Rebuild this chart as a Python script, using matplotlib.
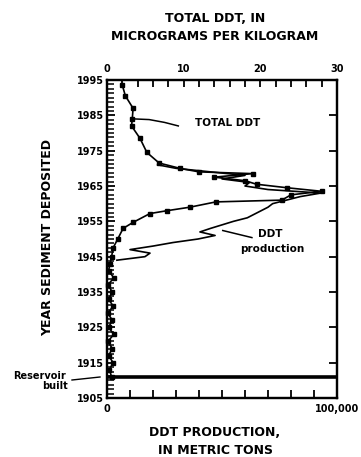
import matplotlib
matplotlib.use("Agg")
import matplotlib.pyplot as plt
import numpy as np

# Total DDT in sediment (micrograms per kilogram) by year
ddt_years = [1993.5, 1990.5, 1987, 1984, 1982, 1978.5, 1974.5, 1971.5, 1970, 1969,
             1968.5, 1967.5, 1966.5, 1965.5, 1964.5, 1963.5, 1962.5, 1961, 1960.5,
             1959, 1958, 1957.2, 1954.7, 1953, 1950, 1947.5, 1945, 1943, 1941, 1939,
             1937, 1935, 1933, 1931, 1929, 1927, 1925, 1923, 1921, 1919, 1917, 1915,
             1913, 1911]
ddt_values = [2.0, 2.4, 3.4, 3.3, 3.2, 4.3, 5.2, 6.8, 9.5, 12.0,
              19.0, 14.0, 18.0, 19.5, 23.5, 28.0, 24.0, 22.8, 14.2,
              10.8, 7.8, 5.6, 3.4, 2.1, 1.4, 0.8, 0.6, 0.4, 0.2, 0.9,
              0.1, 0.7, 0.2, 0.8, 0.1, 0.7, 0.2, 0.9, 0.1, 0.7, 0.2, 0.8,
              0.3, 0.6]

# DDT production (metric tons) by year
prod_years = list(range(1944, 1972))
prod_values = [4300, 16500, 18700, 10000, 20000, 28700, 39600, 47000, 40400, 45000,
               50000, 55000, 61000, 64000, 67000, 70000, 72000, 78000, 84000, 93000,
               70000, 60000, 62000, 50000, 60000, 45000, 30000, 22000]

year_labels = [1905, 1915, 1925, 1935, 1945, 1955, 1965, 1975, 1985, 1995]
reservoir_year = 1911

W, H = 361, 457
fig = plt.figure(figsize=(W / 100, H / 100), dpi=100)
L, R, T, B = 107, 337, 80, 398
ax = fig.add_axes([L / W, 1 - B / H, (R - L) / W, (B - T) / H])

FS = 7
BOLD = dict(fontweight="bold", family="DejaVu Sans")

# production on bottom axis
ax.plot(prod_values, prod_years, color="black", lw=1.2, zorder=3)
ax.set_xlim(0, 100000)
ax.set_ylim(1905, 1995)
ax.set_xticks(np.arange(0, 100001, 10000))
ax.set_xticklabels(["0"] + [""] * 9 + ["100,000"], fontsize=FS, **BOLD)
ax.set_yticks(year_labels)
ax.set_yticklabels([str(y) for y in year_labels], fontsize=FS, **BOLD)
ax.set_yticks(np.arange(1905, 1995.01, 1.25), minor=True)
ax.tick_params(axis="x", direction="in", length=6, width=1.3, pad=4, top=False)
ax.tick_params(axis="y", which="major", direction="in", length=6, width=1.3, pad=2,
               left=True, right=True)
ax.tick_params(axis="y", which="minor", direction="in", length=5, width=1.1,
               left=True, right=False)
for s in ax.spines.values():
    s.set_linewidth(1.6)

# reservoir line
ax.axhline(reservoir_year, color="black", lw=2.6, zorder=4)

# total DDT on top axis
ax2 = ax.twiny()
ax2.plot(ddt_values, ddt_years, color="black", lw=1.2, marker="s", ms=3.5,
         mfc="black", mec="black", zorder=5, clip_on=False)
ax2.set_xlim(0, 30)
ax2.set_ylim(1905, 1995)
ax2.set_xticks([0, 10, 20, 30])
ax2.set_xticklabels(["0", "10", "20", "30"], fontsize=FS, **BOLD)
ax2.set_xticks(np.arange(0, 30.1, 2), minor=True)
ax2.tick_params(axis="x", which="both", direction="in", length=5, width=1.3, pad=4)
for s in ax2.spines.values():
    s.set_linewidth(1.6)

# annotations
ax2.plot([3.4, 5.5, 7.5, 9.3], [1984, 1983.8, 1983, 1982], color="black", lw=1.1)
ax2.text(11.5, 1982.8, "TOTAL DDT", fontsize=7.5, va="center", ha="left", **BOLD)
ax2.plot([15.1, 18.9], [1952.4, 1950.4], color="black", lw=1.1)
ax2.text(21.3, 1951.5, "DDT", fontsize=7.5, va="center", ha="center", **BOLD)
ax2.text(21.5, 1947.3, "production", fontsize=7.5, va="center", ha="center", **BOLD)

# reservoir label
fig.text(40 / W, 1 - 376 / H, "Reservoir", fontsize=7, ha="center", va="center", **BOLD)
fig.text(55 / W, 1 - 386 / H, "built", fontsize=7, ha="center", va="center", **BOLD)
fig.add_artist(plt.Line2D([72 / W, 100 / W], [1 - 380 / H, 1 - 377 / H],
                          color="black", lw=1.0))

# titles
fig.text(215 / W, 1 - 18 / H, "TOTAL DDT, IN", fontsize=9, ha="center", va="center", **BOLD)
fig.text(215 / W, 1 - 37 / H, "MICROGRAMS PER KILOGRAM", fontsize=9, ha="center",
         va="center", **BOLD)
fig.text(215 / W, 1 - 433 / H, "DDT PRODUCTION,", fontsize=9, ha="center", va="center", **BOLD)
fig.text(215 / W, 1 - 451 / H, "IN METRIC TONS", fontsize=9, ha="center", va="center", **BOLD)
fig.text(48 / W, 1 - 238 / H, "YEAR SEDIMENT DEPOSITED", fontsize=9, rotation=90,
         ha="center", va="center", **BOLD)

fig.savefig("out.png", dpi=100)
